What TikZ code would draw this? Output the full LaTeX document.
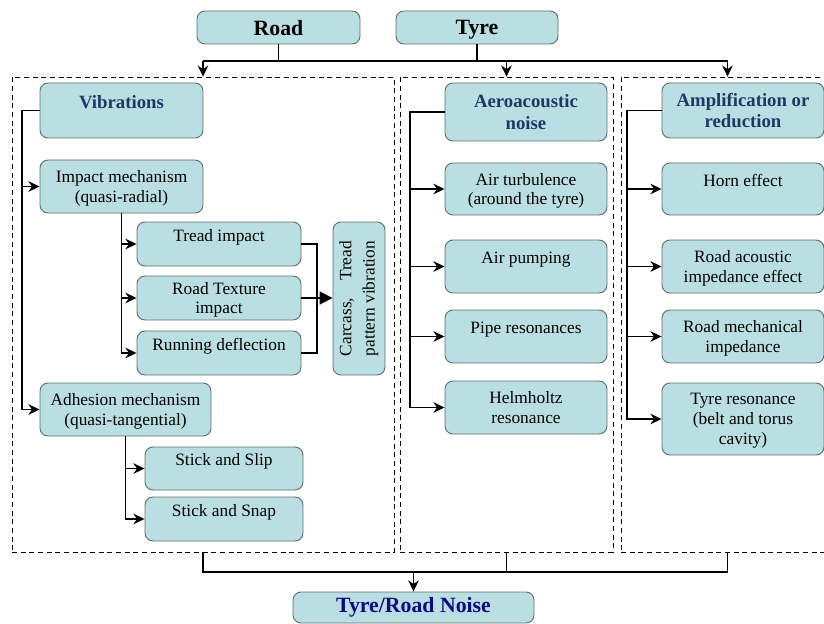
\documentclass[tikz,border=0pt]{standalone}
\usepackage{fontspec}
\setmainfont{Liberation Serif}
\usetikzlibrary{positioning,arrows.meta}
\definecolor{boxfill}{RGB}{185,223,226}
\definecolor{boxline}{RGB}{95,110,112}
\definecolor{headblue}{RGB}{30,55,100}
\definecolor{noiseblue}{RGB}{10,10,130}
\newcommand\bodyfont{\fontsize{14.8}{17}\selectfont}
\newcommand\headfont{\fontsize{16}{18.7}\selectfont\bfseries}
\newcommand\topfont{\fontsize{18.6}{20}\selectfont\bfseries}
\newlength\carwid
\def\pxu{0.3mm}
\tikzset{>={Stealth[length=9.5pt,width=9pt]}}

\begin{document}
\begin{tikzpicture}[x=0.3mm,y=-0.3mm]
    \tikzset{
      box/.style={draw=boxline, fill=boxfill, line width=0.8pt, rounded corners=2.4mm,
                  align=center, inner sep=0pt},
      item/.style={box, font=\bodyfont, text depth=-2pt},
      head/.style={box, font=\headfont, text=headblue},
      top/.style={box, font=\topfont},
      grp/.style={draw, dashed, dash pattern=on 1.5mm off 1.1mm, line width=0.6pt},
      link/.style={line width=1.5pt},
    }
    \clip (0,0) rectangle (824,624);

    % Groups.
    \node[grp, minimum width=382*\pxu, minimum height=475*\pxu] (grpL) at (203,314.5) {};
    \node[grp, minimum width=213*\pxu, minimum height=475*\pxu] (grpM) at (506.5,314.5) {};
    \node[grp, minimum width=213*\pxu, minimum height=475*\pxu] (grpR) at (727.5,314.5) {};

    % Sources and result.
    \node[top, text depth=-3pt, minimum width=163*\pxu, minimum height=33*\pxu] (road) at (278.5,27.5) {Road};
    \node[top, text depth=-3pt, minimum width=162*\pxu, minimum height=33*\pxu] (tyre) at (477,27.5) {Tyre};
    \node[top, text=noiseblue, minimum width=241*\pxu, minimum height=31*\pxu] (noise) at (413.5,607.5) {Tyre/Road Noise};

    % Vibrations.
    \node[head, minimum width=163*\pxu, minimum height=55*\pxu] (vib) at (121.5,110.5) {Vibrations\\[-10pt]\strut};
    \node[item, minimum width=163*\pxu, minimum height=53*\pxu] (impact) at (121.5,186.5) {Impact mechanism\\(quasi-radial)};
    \node[item, minimum width=164*\pxu, minimum height=44*\pxu] (tread) at (219,244) {Tread impact\\[-2pt]\strut};
    \node[item, minimum width=164*\pxu, minimum height=44*\pxu] (texture) at (219,298) {Road Texture\\impact};
    \node[item, minimum width=164*\pxu, minimum height=44*\pxu] (running) at (219,353) {Running deflection\\[-2pt]\strut};
    \node[box, font=\bodyfont, minimum width=52*\pxu, minimum height=153*\pxu] (carcass) at (359,298.5)
      {\settowidth{\carwid}{pattern vibration}%
       \rotatebox{90}{\begin{tabular}{@{}c@{}}\makebox[\carwid][s]{Carcass, Tread}\\[3pt]pattern vibration\end{tabular}}};
    \node[item, minimum width=171*\pxu, minimum height=53*\pxu] (adhesion) at (125.5,409.5) {Adhesion mechanism\\(quasi-tangential)};
    \node[item, minimum width=158*\pxu, minimum height=43*\pxu] (slip) at (224,468.5) {Stick and Slip\\[-2pt]\strut};
    \node[item, minimum width=158*\pxu, minimum height=44*\pxu] (snap) at (224,519) {Stick and Snap\\[-2pt]\strut};

    % Aeroacoustic noise.
    \node[head, minimum width=162*\pxu, minimum height=58*\pxu] (aero) at (526,112) {Aeroacoustic\\noise};
    \node[item, minimum width=162*\pxu, minimum height=52*\pxu] (turb) at (526,189) {Air turbulence\\(around the tyre)};
    \node[item, minimum width=162*\pxu, minimum height=53*\pxu] (pump) at (526,266.5) {Air pumping\\[-2pt]\strut};
    \node[item, minimum width=162*\pxu, minimum height=53*\pxu] (pipe) at (526,336.5) {Pipe resonances\\[-2pt]\strut};
    \node[item, minimum width=162*\pxu, minimum height=53*\pxu] (helm) at (526,407.5) {Helmholtz\\resonance};

    % Amplification or reduction.
    \node[head, minimum width=162*\pxu, minimum height=55*\pxu] (ampl) at (743,110.5) {Amplification or\\reduction};
    \node[item, minimum width=162*\pxu, minimum height=52*\pxu] (horn) at (743,189) {Horn effect\\[-2pt]\strut};
    \node[item, minimum width=162*\pxu, minimum height=53*\pxu] (racou) at (743,266.5) {Road acoustic\\impedance effect};
    \node[item, minimum width=162*\pxu, minimum height=53*\pxu] (rmech) at (743,336.5) {Road mechanical\\impedance};
    \node[item, minimum width=162*\pxu, minimum height=72*\pxu] (tres) at (743,419) {Tyre resonance\\(belt and torus\\cavity)};

    % Top bus.
    \coordinate (topbus) at (0,61);
    \draw[link] (road.south) -- (road.south |- topbus);
    \draw[link] (tyre.south) -- (tyre.south |- topbus);
    \draw[link] (grpL.north |- topbus) -- (grpR.north |- topbus);
    \draw[link,->] (grpL.north |- topbus) -- (grpL.north);
    \draw[link,->] (grpM.north |- topbus) -- (grpM.north);
    \draw[link,->] (grpR.north |- topbus) -- (grpR.north);

    % Bottom bus.
    \coordinate (botbus) at (0,572);
    \draw[link] (grpL.south) -- (grpL.south |- botbus) -- (grpR.south |- botbus) -- (grpR.south);
    \draw[link] (grpM.south) -- (grpM.south |- botbus);
    \draw[link,->] (noise.north |- botbus) -- (noise.north);

    % Vibrations tree.
    \coordinate (vibbus) at (22,0);
    \draw[link,->] (vib.west) -- (vib.west -| vibbus) |- (adhesion.west);
    \draw[link,->] (impact.west -| vibbus) -- (impact.west);
    \draw[link,->] (impact.south) |- (running.west);
    \draw[link,->] (tread.west -| impact.south) -- (tread.west);
    \draw[link,->] (texture.west -| impact.south) -- (texture.west);
    \coordinate (merge) at (317,0);
    \draw[link] (tread.east) -- (tread.east -| merge) |- (running.east);
    \draw[line width=1.7pt,-{Triangle[length=11pt,width=11pt]}] (texture.east) -- (texture.east -| carcass.west);
    \draw[link,->] (adhesion.south) |- (snap.west);
    \draw[link,->] (slip.west -| adhesion.south) -- (slip.west);

    % Aeroacoustic tree.
    \coordinate (aerobus) at (410,0);
    \draw[link,->] (aero.west) -- (aero.west -| aerobus) |- (helm.west);
    \draw[link,->] (turb.west -| aerobus) -- (turb.west);
    \draw[link,->] (pump.west -| aerobus) -- (pump.west);
    \draw[link,->] (pipe.west -| aerobus) -- (pipe.west);

    % Amplification tree.
    \coordinate (amplbus) at (627,0);
    \draw[link,->] (ampl.west) -- (ampl.west -| amplbus) |- (tres.west);
    \draw[link,->] (horn.west -| amplbus) -- (horn.west);
    \draw[link,->] (racou.west -| amplbus) -- (racou.west);
    \draw[link,->] (rmech.west -| amplbus) -- (rmech.west);
\end{tikzpicture}
\end{document}
